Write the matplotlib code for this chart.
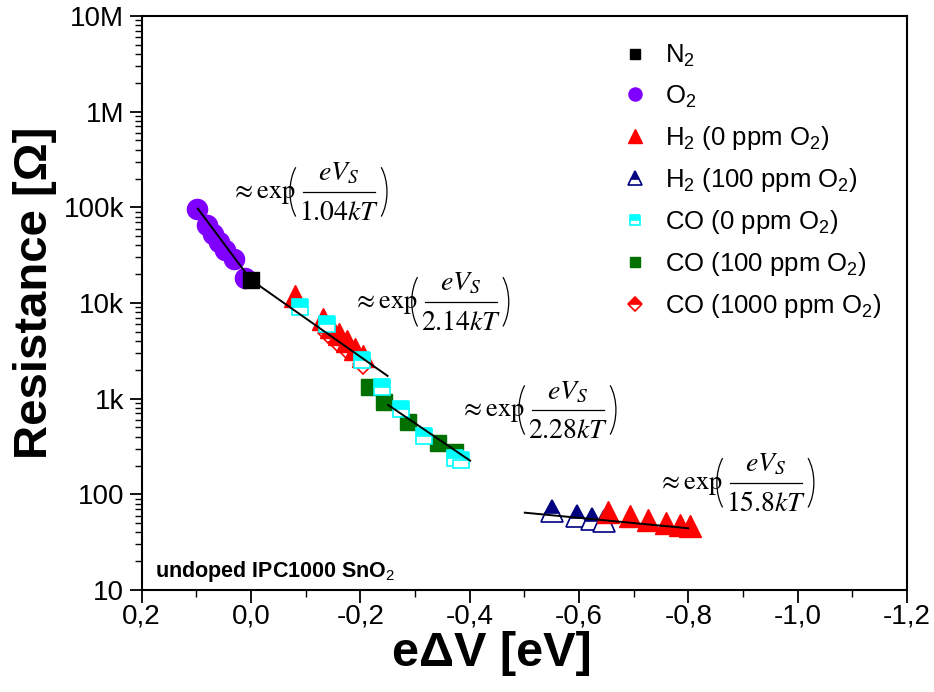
import matplotlib
matplotlib.use("Agg")
import matplotlib.pyplot as plt
import numpy as np
from matplotlib.transforms import IdentityTransform
from matplotlib.patches import Arc
from matplotlib.lines import Line2D

plt.rcParams['font.family'] = ['Liberation Sans', 'DejaVu Sans']
plt.rcParams['mathtext.fontset'] = 'custom'
plt.rcParams['mathtext.rm'] = 'Liberation Sans'
plt.rcParams['mathtext.it'] = 'Liberation Sans:italic'
plt.rcParams['mathtext.bf'] = 'Liberation Sans:bold'

# ---- data (eΔV in eV, resistance in Ohm) ----
n2_x = [0.0]
n2_r = [17500]

o2_x = [0.099, 0.080, 0.069, 0.058, 0.047, 0.031, 0.011]
o2_r = [96000, 65000, 53000, 43500, 36000, 29000, 18300]

h2_0_x = [-0.081, -0.132, -0.147, -0.161, -0.176, -0.190, -0.205,
          -0.654, -0.693, -0.727, -0.760, -0.785, -0.803]
h2_0_r = [11800, 6800, 5600, 4750, 4000, 3300, 2800,
          65.9, 59.4, 54.3, 49.8, 47.8, 46.7]

h2_100_x = [-0.550, -0.596, -0.623, -0.646]
h2_100_r = [67.5, 59.8, 55.3, 52.6]

co_0_x = [-0.090, -0.139, -0.203, -0.240, -0.275, -0.317, -0.373, -0.384]
co_0_r = [9100, 6040, 2540, 1320, 780, 407, 240, 229]

co_100_x = [-0.216, -0.2435, -0.287, -0.342, -0.373]
co_100_r = [1320, 923, 570, 344, 277]

co_1000_x = [-0.141, -0.159, -0.178, -0.205]
co_1000_r = [4860, 3910, 3230, 2300]

# fit lines (end points)
fit1_x = [0.097, 0.0]
fit1_r = [97000, 17500]
fit2_x = [0.0, -0.25]
fit2_r = [17500, 1730]
fit3_x = [-0.251, -0.401]
fit3_r = [859, 225]
fit4_x = [-0.501, -0.800]
fit4_r = [64.3, 44.2]

fit_labels = ["1.04", "2.14", "2.28", "15.8"]
ann_x = [0.0327, -0.190, -0.386, -0.748]
ann_r = [1.45e5, 1.03e4, 762, 132]

yticks = [10, 100, 1e3, 1e4, 1e5, 1e6, 1e7]
ytick_labels = ["10", "100", "1k", "10k", "100k", "1M", "10M"]
xticks = [0.2, 0.0, -0.2, -0.4, -0.6, -0.8, -1.0, -1.2]
xtick_labels = ["0,2", "0,0", "-0,2", "-0,4", "-0,6", "-0,8", "-1,0", "-1,2"]

W, H = 934, 692
fig = plt.figure(figsize=(W/100, H/100), dpi=100)
ax = fig.add_axes([141.5/W, 1-590/H, (907-141.5)/W, (590-16)/H])

ax.set_yscale('log')
ax.set_xlim(0.2, -1.2)
ax.set_ylim(10, 1e7)

h_o2, = ax.plot(o2_x, o2_r, 'o', ms=14.5, color='#7f00ff', mec='#7f00ff', label='O$_2$', zorder=2)
h_n2, = ax.plot(n2_x, n2_r, 's', ms=11.5, color='black', label='N$_2$', zorder=3)
h_h2_100, = ax.plot(h2_100_x, h2_100_r, '^', ms=16, color='#000080', mec='#000080',
                    fillstyle='top', markerfacecoloralt='white', mew=1.2,
                    label='H$_2$ (100 ppm O$_2$)', zorder=3)
h_h2_0, = ax.plot(h2_0_x, h2_0_r, '^', ms=16, color='red', mec='red',
                  label='H$_2$ (0 ppm O$_2$)', zorder=4)
h_co_1000, = ax.plot(co_1000_x, co_1000_r, 'D', ms=10.5, color='red', mec='red',
                     fillstyle='top', markerfacecoloralt='white', mew=1.2,
                     label='CO (1000 ppm O$_2$)', zorder=3.5)
h_co_100, = ax.plot(co_100_x, co_100_r, 's', ms=11.5, color='#007000', mec='#007000',
                    label='CO (100 ppm O$_2$)', zorder=4)
h_co_0, = ax.plot(co_0_x, co_0_r, 's', ms=11.5, color='cyan', mec='cyan',
                  fillstyle='top', markerfacecoloralt='white', mew=1.2,
                  label='CO (0 ppm O$_2$)', zorder=5)

for fx, fr in [(fit1_x, fit1_r), (fit2_x, fit2_r), (fit3_x, fit3_r), (fit4_x, fit4_r)]:
    ax.plot(fx, fr, '-', color='black', lw=1.4, zorder=6)

# annotations built in display pixels around an anchor in data coords
idt = IdentityTransform()
afs = 20
for axx, ayy, lab in zip(ann_x, ann_r, fit_labels):
    x0, yc = ax.transData.transform((axx, ayy))
    fig.text(x0 - 2, yc - 6, r"$\approx\mathrm{exp}$", fontsize=19, math_fontfamily='stix',
             ha='left', va='baseline', transform=idt)
    a = x0 + 57
    fig.add_artist(Arc((a + 20, yc), 40, 70, theta1=120, theta2=240,
                       transform=idt, color='black', lw=0.9))
    fig.add_artist(Line2D([x0 + 70, x0 + 142], [yc, yc], transform=idt,
                          color='black', lw=0.9))
    fig.text(x0 + 106, yc + 11, r"$eV_S$", fontsize=afs, math_fontfamily='stix',
             ha='center', va='baseline', transform=idt)
    fig.text(x0 + 106, yc - 28, r"$%s kT$" % lab, fontsize=afs, math_fontfamily='stix',
             ha='center', va='baseline', transform=idt)
    b = x0 + 154
    fig.add_artist(Arc((b - 20, yc), 40, 70, theta1=-60, theta2=60,
                       transform=idt, color='black', lw=0.9))

ax.text(0.175, 13.7, "undoped IPC1000 SnO$_2$", fontsize=15.5, fontweight='bold',
        ha='left', va='baseline')

ax.set_yticks(yticks)
ax.set_yticklabels(ytick_labels)
ax.set_xticks(xticks)
ax.set_xticklabels(xtick_labels)
ax.xaxis.set_minor_locator(matplotlib.ticker.MultipleLocator(0.1))
ax.yaxis.set_minor_locator(matplotlib.ticker.LogLocator(base=10, subs=np.arange(2, 10)))
ax.yaxis.set_minor_formatter(matplotlib.ticker.NullFormatter())
ax.tick_params(axis='both', which='major', direction='out', length=9, width=1.3,
               labelsize=20, top=False, right=False)
ax.tick_params(axis='x', which='major', pad=1)
ax.tick_params(axis='both', which='minor', direction='out', length=5, width=1.0,
               top=False, right=False)
for s in ax.spines.values():
    s.set_linewidth(1.5)

ax.set_xlabel("e\u0394V [eV]", fontsize=35, fontweight='bold')
ax.set_ylabel("Resistance [\u03a9]", fontsize=34, fontweight='bold')
ax.xaxis.set_label_coords((492 - 141.5) / 765.5, -(631 - 590) / 574)
ax.yaxis.set_label_coords((57 - 141.5) / 765.5, (590 - 293) / 574)

handles = [h_n2, h_o2, h_h2_0, h_h2_100, h_co_0, h_co_100, h_co_1000]
leg = fig.legend(handles=handles, loc='upper left', bbox_to_anchor=(622.5/W, 1-43/H),
                 frameon=False, fontsize=18.5, markerscale=0.65, handlelength=1.0,
                 handletextpad=0.65, labelspacing=0.55, borderpad=0, borderaxespad=0,
                 numpoints=1)

fig.savefig("out.png", dpi=100)
